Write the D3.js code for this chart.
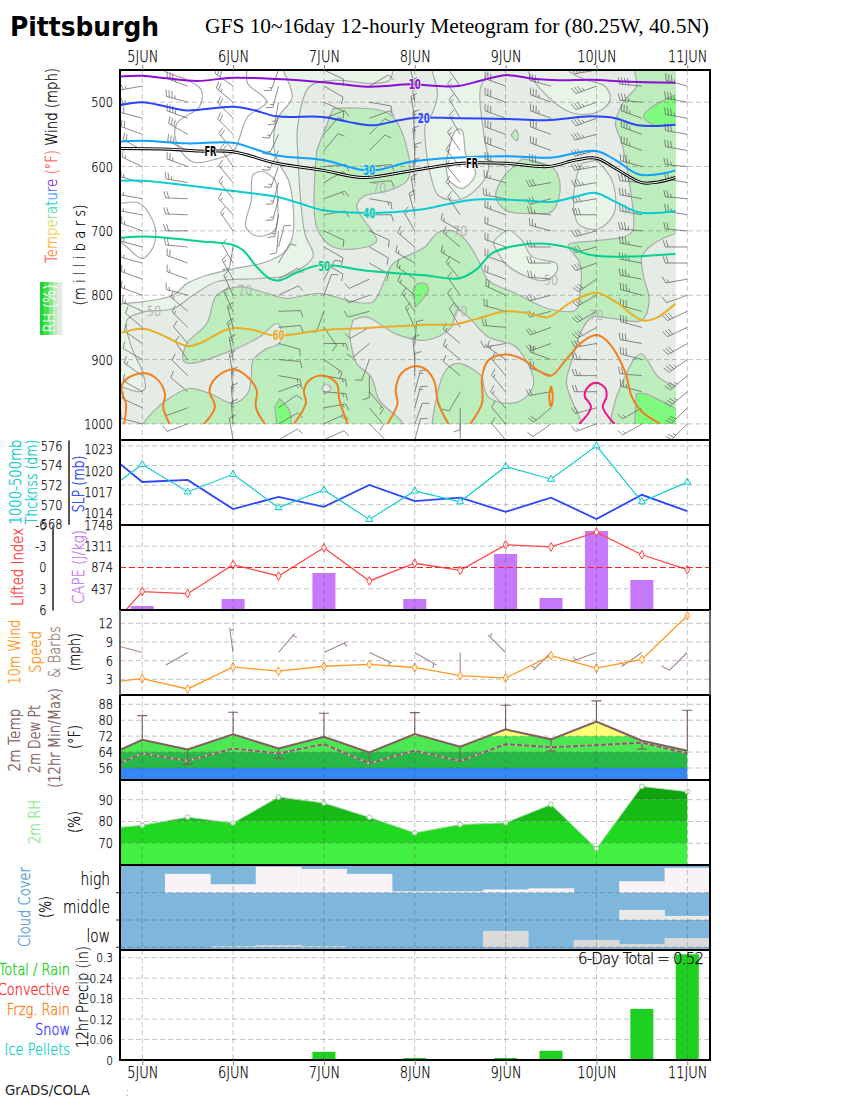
<!DOCTYPE html>
<html>
<head>
<meta charset="utf-8">
<script src="https://cdn.jsdelivr.net/npm/d3@7/dist/d3.min.js"></script>
<style>
  html, body { margin: 0; padding: 0; background: #fff; }
  svg { display: block; }
  text { font-family: "DejaVu Sans ExtraLight", "DejaVu Sans", sans-serif; font-weight: 200; }
</style>
</head>
<body>
<div id="chart"></div>
<script>
// --- time axis
var dayLabels = ["5JUN", "6JUN", "7JUN", "8JUN", "9JUN", "10JUN", "11JUN"];
var days = [0, 1, 2, 3, 4, 5, 6];
var halfDays = [0, 0.5, 1, 1.5, 2, 2.5, 3, 3.5, 4, 4.5, 5, 5.5, 6];
var lineDays = [-0.25, 0, 0.5, 1, 1.5, 2, 2.5, 3, 3.5, 4, 4.5, 5, 5.5, 6];

// --- upper panel: isotherms as [day, mb]
var iso10 = [[-.25,460],[0,459],[.27,463],[.6,467],[1,462],[1.48,464],[1.99,469],[2.47,476],[2.68,475],[2.94,472],[3.26,475],[3.48,475],[3.74,466],[4,458],[4.33,464],[4.58,466],[4.95,465],[5.31,468],[5.87,470]];
var iso20 = [[-.25,505],[0,500],[.27,507],[.49,513],[1,507],[1.22,512],[1.48,522],[1.99,523],[2.28,531],[2.54,536],[2.83,528],[3.05,524],[3.48,525],[4,526],[4.44,528],[4.95,522],[5.21,525],[5.46,536],[5.87,535]];
var iso30 = [[-.25,561],[.01,560],[.49,564],[1,563],[1.22,572],[1.48,583],[1.99,590],[2.41,605],[2.61,605],[2.9,594],[3.11,590],[3.48,586],[4,584],[4.51,586],[4.77,579],[5,576],[5.21,590],[5.46,612],[5.68,612],[5.87,606]];
var isoFR = [[-.25,572],[.3,573],[.63,576],[1,577],[1.48,595],[1.99,606],[2.43,617],[2.9,608],[3.11,603],[3.52,595],[4,595],[4.47,600],[4.77,590],[5,587],[5.21,603],[5.5,625],[5.68,624],[5.87,617]];
var iso40 = [[-.25,622],[.01,622],[.3,626],[1,638],[1.48,647],[1.73,657],[1.99,668],[2.39,672],[2.61,672],[3.11,666],[3.48,655],[3.74,651],[4.25,653],[4.51,655],[4.77,647],[4.99,641],[5.21,655],[5.46,671],[5.68,672],[5.87,669]];
var iso50 = [[-.25,711],[.08,709],[.63,716],[1,722],[1.11,730],[1.26,756],[1.4,774],[1.51,777],[1.7,765],[1.92,754],[2.1,754],[2.47,762],[3.11,769],[3.48,774],[3.67,761],[3.85,735],[4.11,723],[4.44,720],[4.69,726],[4.95,738],[5.31,740],[5.87,736]];
var iso60 = [[-.25,859],[.01,852],[.19,860],[.49,879],[.63,875],[.96,852],[1.22,854],[1.42,862],[1.59,862],[1.99,854],[2.47,851],[3.11,846],[3.45,845],[3.7,836],[4,825],[4.25,828],[4.47,834],[4.73,810],[5,796],[5.21,810],[5.5,839],[5.65,836],[5.87,813]];
var iso70a = [[-.20,1000],[-.18,968],[-.23,948],[-.19,932],[.01,921],[.16,930],[.25,953],[.23,974],[.30,1000]];
var iso70b = [[.68,1000],[.80,974],[.74,948],[.82,927],[1,915],[1.16,927],[1.26,948],[1.25,974],[1.35,1000]];
var iso70c = [[1.67,1000],[1.80,968],[1.78,948],[1.84,932],[1.99,925],[2.14,937],[2.17,963],[2.26,1000]];
var iso70d = [[2.70,1000],[2.81,968],[2.79,948],[2.85,922],[3,910],[3.11,914],[3.21,932],[3.26,968],[3.37,1000]];
var iso70e = [[3.61,1000],[3.74,968],[3.74,927],[3.81,901],[4,892],[4.18,899],[4.36,917],[4.5,925],[4.66,901],[4.84,873],[5,862],[5.13,873],[5.31,917],[5.39,958],[5.5,981],[5.70,1000]];
var iso70f = [[4.5,941],[4.52,958],[4.5,973],[4.48,958],[4.5,941]];
var iso80 = [[4.81,1000],[4.94,974],[4.87,956],[4.91,942],[5,936],[5.10,945],[5.11,958],[5.07,974],[5.2,1000]];

var isotherms = [
  { pts: iso10, color: "#8a0fd8" },
  { pts: iso20, color: "#2a44ff" },
  { pts: iso30, color: "#12a0ff" },
  { pts: iso40, color: "#0ccbd0" },
  { pts: iso50, color: "#05d08e" },
  { pts: iso60, color: "#e8ae2a" },
  { pts: iso70a, color: "#f08022" },
  { pts: iso70b, color: "#f08022" },
  { pts: iso70c, color: "#f08022" },
  { pts: iso70d, color: "#f08022" },
  { pts: iso70e, color: "#f08022" },
  { pts: iso70f, color: "#f08022" },
  { pts: iso80, color: "#f0108c" }
];
// label, day, mb, colour, colour behind it
var isoLabels = [
  ["10", 3, 471, "#8a0fd8", "#e5ece5"],
  ["20", 3.1, 524, "#2a44ff", "#e5ece5"],
  ["30", 2.5, 605, "#12a0ff", "#bdecbd"],
  ["40", 2.5, 672, "#0ccbd0", "#bdecbd"],
  ["50", 2, 754, "#05d08e", "#e5ece5"],
  ["60", 1.5, 862, "#e8ae2a", "#e5ece5"],
  ["FR", 0.75, 576, "#000", "#fff"],
  ["FR", 3.63, 595, "#000", "#fff"]
];

// --- upper panel: RH regions as [day, mb], points past the field edge get clipped
var rhWhiteA = [[1.53,440],[1.55,450],[1.65,492],[1.48,528],[1.46,580],[1.62,626],[1.66,704],[1.59,730],[1.37,748],[1,759],[.71,769],[.49,782],[.34,800],[.01,810],[-.25,814],[-.4,820],[-.4,440]];
var rhWhiteB = [[3.34,600],[3.45,544],[3.52,544],[3.56,580],[3.67,611],[3.52,634],[3.37,621]];
var rhGrey = [[-.4,940],[-.25,942],[-.03,950],[.03,945],[.01,922],[-.12,880],[-.17,839],[.01,826],[.34,821],[.56,800],[.82,779],[1.29,774],[1.59,769],[1.88,740],[1.79,704],[1.71,575],[1.71,538],[1.84,476],[2.10,466],[2.54,471],[2.72,466],[2.76,450],[2.76,430],[6,430],[6,1020],[-.4,1020]];
var rhPaleA = [[3.19,440],[3.19,450],[3.25,487],[3.19,518],[3.12,533],[3.12,569],[3.17,611],[3.26,645],[3.48,652],[3.70,632],[3.81,606],[3.76,549],[3.72,481],[3.81,450],[3.81,430]];
var rhPaleB = [[4.25,440],[4.25,453],[4.55,502],[4.77,518],[5.02,515],[5.15,497],[5.10,476],[4.84,463],[4.69,450],[4.69,430]];
var rhPaleC = [[5,590],[5.17,621],[5.21,663],[5.15,683],[4.99,698],[4.80,689],[4.75,663],[4.78,616],[4.84,595]];
var rhPaleD = [[3.87,716],[4.03,699],[4.18,715],[4.29,740],[4.56,751],[4.56,764],[4.44,777],[4.25,772],[4,751],[3.87,722]];
var rhGreenA = [[2.10,510],[2.72,518],[2.92,575],[2.92,621],[2.72,637],[2.43,647],[2.36,663],[2.58,715],[2.47,725],[2.10,725],[1.92,694],[1.92,575]];
var rhGreenB = [[-.02,1020],[.01,1000],[.27,963],[.52,945],[.78,955],[1,968],[1.16,953],[1.20,927],[1.22,901],[1.37,883],[1.51,875],[1.53,854],[1.48,844],[1.29,865],[1,885],[.52,906],[.45,901],[.49,875],[.71,844],[.82,800],[1.07,787],[1.37,797],[1.59,805],[1.95,797],[2.32,810],[2.54,810],[2.76,751],[2.98,735],[3.11,725],[3.26,702],[3.39,699],[3.48,704],[3.59,720],[3.72,751],[3.81,777],[4.11,797],[4.47,821],[4.77,823],[4.82,797],[4.82,751],[4.69,722],[4.95,716],[5.31,709],[5.40,699],[5.37,632],[5.28,564],[5.21,533],[5.31,497],[5.44,476],[5.42,450],[5.42,430],[6,430],[6,700],[5.87,704],[5.61,722],[5.5,740],[5.52,771],[5.58,808],[5.5,839],[5.17,836],[4.95,834],[4.84,854],[4.73,901],[4.67,937],[4.84,1000],[4.86,1020]];
var rhGreenC = [[5.14,1020],[5.15,1000],[5.22,958],[5.33,922],[5.42,898],[5.5,891],[5.68,927],[5.87,942],[6,950],[6,1020]];
var rhGreenD = [[4.11,542],[4.14,551],[4.12,560],[4.06,551]];
var rhGreenE = [[4.18,588],[4.53,603],[4.60,637],[4.51,670],[4.36,673],[4,668],[3.89,645],[4,611]];
var rhHoleA = [[2.28,860],[2.36,906],[2.52,927],[2.61,963],[2.87,1000],[2.87,1020],[3.19,1020],[3.19,1000],[3.34,917],[3.48,906],[3.74,927],[3.76,942],[3.81,958],[4,968],[4.18,963],[4.31,937],[4.11,880],[3.81,865],[3.59,834],[3.47,823],[3.39,852],[3.12,870],[2.79,860],[2.47,834],[2.32,839]];
var rhHoleB = [[1.98,945],[2.01,938],[2.08,945],[2.01,953]];
var rhBrightA = [[1.51,961],[1.62,979],[1.64,1000],[1.64,1020],[1.5,1020],[1.48,1000],[1.46,974]];
var rhBrightB = [[2.98,797],[3.01,784],[3.12,782],[3.15,792],[3.12,800],[3.01,818]];
var rhBrightC = [[5.86,489],[5.57,512],[5.52,523],[5.64,536],[5.87,536],[6,536],[6,485]];
var rhBrightD = [[5.44,953],[5.53,953],[5.87,976],[6,985],[6,1020],[5.41,1020],[5.42,1000]];
var rhLineA = [[.23,440],[.23,450],[.49,465],[.65,481],[.63,507],[.38,533],[.38,564],[.56,593],[.82,588],[1,577],[1.16,523],[1.37,499],[1.16,471],[1.15,450],[1.15,440]];
var rhLineB = [[1.33,607],[1.22,613],[1.20,652],[1.14,694],[1.26,708],[1.46,699],[1.49,652],[1.46,621],[1.33,607]];
var rhLineC = [[-.4,657],[-.25,657],[-.03,657],[.14,694],[.12,725],[0,743],[-.17,725],[-.25,717],[-.4,710]];

var rhRegions = [
  { pts: rhWhiteA, fill: "#ffffff" },
  { pts: rhGrey, fill: "#e5ece5" },
  { pts: rhPaleA, fill: "#e9f4e9" },
  { pts: rhWhiteB, fill: "#ffffff" },
  { pts: rhPaleB, fill: "#e9f4e9" },
  { pts: rhPaleC, fill: "#e9f4e9" },
  { pts: rhPaleD, fill: "#e9f4e9" },
  { pts: rhGreenA, fill: "#bdecbd" },
  { pts: rhGreenB, fill: "#bdecbd" },
  { pts: rhGreenC, fill: "#bdecbd" },
  { pts: rhGreenD, fill: "#bdecbd" },
  { pts: rhGreenE, fill: "#bdecbd" },
  { pts: rhHoleA, fill: "#e5ece5" },
  { pts: rhHoleB, fill: "#e5ece5" },
  { pts: rhBrightA, fill: "#80fb80" },
  { pts: rhBrightB, fill: "#80fb80" },
  { pts: rhBrightC, fill: "#80fb80" },
  { pts: rhBrightD, fill: "#80fb80" }
];
var rhLines = [rhLineA, rhLineB, rhLineC];
var rhLabels = [["50", .13, 824], ["70", 1.13, 792], ["70", 2.61, 633], ["70", 3.5, 700], ["70", 3.5, 825], ["50", 4.5, 776], ["70", 5, 831]];

// --- upper panel winds, one row per 12 hours, one value per level
var windLevels = [450,475,500,525,550,575,600,625,650,675,700,725,750,775,800,825,850,875,900,925,950,975,1000,1025];
var windDir = [
  [280,260,265,285,290,300,295,285,280,280,290,285,285,290,290,295,310,305,300,305,300,295,285,270],
  [290,290,285,290,300,295,290,280,272,272,270,275,290,290,285,310,315,320,325,315,310,250,250,250],
  [300,305,310,315,315,320,325,320,320,318,325,190,330,330,335,335,345,345,350,350,355,355,355,350],
  [200,195,190,205,205,205,200,195,195,190,185,15,30,60,65,88,85,105,95,100,70,55,60,60],
  [115,120,115,70,40,40,85,60,70,80,115,120,120,30,20,200,145,90,125,100,95,80,65,65],
  [45,60,100,70,45,45,85,85,100,90,115,120,120,245,250,255,240,230,200,180,140,140,135,130],
  [345,345,350,350,355,355,0,355,350,345,330,310,300,305,310,325,335,5,355,0,15,15,20,15],
  [330,325,325,330,330,325,320,320,320,325,300,310,300,320,325,325,330,310,310,310,210,180,180,180],
  [290,290,290,290,290,290,290,285,280,290,290,290,290,290,295,285,275,260,305,320,320,317,320,320],
  [285,285,290,290,290,290,285,260,255,275,285,270,270,275,255,255,250,250,290,290,260,230,235,235],
  [260,250,250,250,255,255,260,260,260,270,255,255,250,235,240,240,240,260,270,270,270,255,250,250],
  [270,275,275,290,290,290,285,275,280,280,275,280,280,280,285,285,285,280,285,275,285,240,240,240],
  [280,285,280,280,280,280,275,280,275,280,275,270,270,260,250,245,245,240,235,230,230,225,225,225]
];
var windSpeed = [
  [25,25,25,20,20,20,15,15,15,15,15,15,15,15,15,15,10,10,10,15,15,10,10,10],
  [35,35,35,35,30,30,25,25,20,20,20,20,20,15,15,15,15,10,10,10,10,10,10,10],
  [30,30,25,20,20,20,20,15,15,15,15,10,10,15,15,15,15,15,15,15,15,15,10,10],
  [15,15,15,15,15,15,15,15,15,15,10,10,10,10,10,10,10,10,10,15,15,10,10,10],
  [10,10,10,10,10,10,10,10,15,10,10,10,10,10,10,10,10,15,15,15,15,15,15,10],
  [10,10,10,10,10,10,10,10,15,10,10,10,10,10,10,10,10,10,10,10,15,10,10,10],
  [15,15,15,15,15,15,15,15,15,15,15,15,15,15,15,15,15,10,10,10,15,15,10,10],
  [15,15,15,15,15,15,15,15,15,15,15,15,15,15,15,10,10,15,15,10,10,10,10,5],
  [30,30,30,30,30,30,25,25,25,25,20,20,20,20,20,20,20,15,15,15,15,15,10,10],
  [35,35,35,35,30,30,30,30,30,25,25,25,25,25,25,25,25,25,20,20,20,20,10,10],
  [35,35,35,35,35,35,35,35,30,30,30,30,30,30,30,30,30,30,25,25,20,20,15,15],
  [40,40,35,35,35,35,35,35,35,35,35,35,35,35,35,30,30,30,30,25,25,15,15,15],
  [35,35,35,35,30,30,25,25,25,25,20,20,20,15,10,30,30,30,35,35,35,30,25,25]
];

// --- lower panels
var slp = [1021.0,1018.4,1018.7,1014.6,1016.3,1014.9,1018,1015.7,1016.2,1014.2,1016.2,1013.2,1016.6,1014.3];
var thickness = [572.4,574.1,571.3,573.1,569.7,571.5,568.5,571.4,570.3,573.9,572.6,576.0,570.3,572.3];
var liftedIndex = [7,3.4,3.7,-.4,1.2,-2.8,1.9,-.6,.4,-3.2,-2.9,-5,-1.8,.3];
var capeDays = [0,1,2,3,4,4.5,5,5.5];
var cape = [82,226,761,226,1152,247,1625,617];
var wind10m = [2.7,3.1,1.45,5,4.3,5.1,5.4,4.9,3.6,3.2,6.8,4.8,6.2,13.2];
var wind10mDir = [285,240,352,40,65,115,120,180,315,225,250,235,225];
var wind10mBarb = [0,0,5,5,5,5,5,0,5,5,5,5,10];
var temp2m = [65,70.2,65.3,72.9,65.8,71.7,63.8,73,66.7,75.4,70.4,79.3,69.7,64.7];
var dew2m = [58.3,63.3,59.6,65.8,63.3,68,58.3,64.7,59.5,68,66.4,67.5,68.7,63.3];
var maxDays = [0,1,2,3,4,5,6];
var tempMax = [82.3,84,83.5,83.8,87.5,89.7,85];
var minDays = [.5,1.5,2.5,3.5,4.5,5.5];
var tempMin = [57.8,60.8,58.6,59.5,64.5,65.5];
var rh2m = [77.3,78.3,82,79.3,91.2,88.5,81.9,74.8,78.6,79.4,87.8,67.6,96.1,93.7];
var cloudHigh = [0,69,31,95,87,69,5,5,12,16,0,42,91];
var cloudMid = [0,0,0,0,0,0,0,0,0,0,0,37,15];
var cloudLow = [0,0,4,8,4,0,0,0,60,0,27,12,34];
var precipDays = [2,3,4,4.5,5.5,6];
var precip = [.024,.006,.006,.027,.15,.31];

// --- set up
var width = 850, height = 1100;
var svg = d3.select("#chart").append("svg").attr("width", width).attr("height", height);
var defs = svg.append("defs");
var x = d3.scaleLinear().domain([-0.245, 6.25]).range([120, 710]);
var left = 120, right = 710;
var grid = "rgba(70,70,70,0.32)";
var intFmt = d3.format("d");
var plainFmt = function(d) { return String(d); };

function addClip(id, x0, y0, w, h) {
  defs.append("clipPath").attr("id", id).append("rect")
    .attr("x", x0).attr("y", y0).attr("width", w).attr("height", h);
}

function tick(sel, size) {
  sel.call(function(g) { g.select(".domain").remove(); });
  sel.selectAll("text").attr("font-size", size || 14).attr("fill", "#000");
}

function hGrid(vals, scale, color) {
  svg.append("g").selectAll("line").data(vals).enter().append("line")
    .attr("x1", left).attr("x2", right)
    .attr("y1", function(d) { return scale(d); })
    .attr("y2", function(d) { return scale(d); })
    .attr("stroke", color || grid).attr("stroke-width", 1).attr("stroke-dasharray", "5,3");
}

function vText(txt, px, py, color, len, size) {
  var t = svg.append("text")
    .attr("transform", "translate(" + px + "," + py + ") rotate(-90)")
    .attr("text-anchor", "middle")
    .attr("font-size", size || 16).attr("fill", color).text(txt);
  if (len) t.attr("textLength", len).attr("lengthAdjust", "spacingAndGlyphs");
  return t;
}

// --- upper panel
var yP = d3.scaleLinear().domain([450, 1025]).range([70, 440]);
var fieldRight = x(5.873);
addClip("field", left, yP(450), fieldRight - left, yP(1000) - yP(450));
addClip("upper", left, 70, right - left, 370);

var curve = d3.line().x(function(d) { return x(d[0]); }).y(function(d) { return yP(d[1]); })
  .curve(d3.curveCatmullRom.alpha(0.5));

var field = svg.append("g").attr("clip-path", "url(#field)");
field.append("rect").attr("x", left).attr("y", yP(450)).attr("width", fieldRight - left).attr("height", yP(1000) - yP(450)).attr("fill", "#e9f4e9");
field.selectAll("path.rh").data(rhRegions).enter().append("path").attr("class", "rh")
  .attr("d", function(d) { return curve(d.pts) + "Z"; })
  .attr("fill", function(d) { return d.fill; })
  .attr("stroke", "#aaaaaa").attr("stroke-width", 1.2);
field.selectAll("path.rhl").data(rhLines).enter().append("path").attr("class", "rhl")
  .attr("d", curve).attr("fill", "none").attr("stroke", "#aaaaaa").attr("stroke-width", 1.2);
svg.append("g").selectAll("text").data(rhLabels).enter().append("text")
  .attr("x", function(d) { return x(d[1]); }).attr("y", function(d) { return yP(d[2]) + 5; })
  .attr("text-anchor", "middle").attr("font-size", 14).attr("fill", "#b4b4b4")
  .text(function(d) { return d[0]; });

hGrid([500, 600, 700, 800, 900, 1000], yP);

// barbs
function barbPath(px, py, dir, speed, len, full) {
  var a = dir * Math.PI / 180;
  var ux = Math.sin(a), uy = -Math.cos(a);
  var b = (dir + 72) * Math.PI / 180;
  var fx = Math.sin(b), fy = -Math.cos(b);
  var ex = px + ux * len, ey = py + uy * len;
  var p = "M" + px + "," + py + "L" + ex + "," + ey;
  var pos = 0, left5 = speed;
  if (left5 === 5) pos = 3;
  while (left5 > 0) {
    var l = left5 >= 10 ? full : full * 0.5;
    var sx = ex - ux * pos, sy = ey - uy * pos;
    p += "M" + sx + "," + sy + "L" + (sx + fx * l) + "," + (sy + fy * l);
    pos += 3;
    left5 -= 10;
  }
  return p;
}
var barbData = [];
halfDays.forEach(function(t, i) {
  windLevels.forEach(function(lev, j) {
    barbData.push({ t: t, lev: lev, dir: windDir[i][j], speed: windSpeed[i][j] });
  });
});
svg.append("g").attr("clip-path", "url(#upper)").selectAll("path").data(barbData).enter().append("path")
  .attr("d", function(d) { return barbPath(x(d.t), yP(d.lev), d.dir, d.speed, 22, 7); })
  .attr("fill", "none").attr("stroke", "#5a5a5a").attr("stroke-width", 0.7);

// isotherms
var isoG = svg.append("g").attr("clip-path", "url(#field)");
isoG.append("path").attr("d", curve(isoFR)).attr("fill", "none").attr("stroke", "#000").attr("stroke-width", 3);
isoG.append("path").attr("d", curve(isoFR)).attr("fill", "none").attr("stroke", "#fff").attr("stroke-width", 1);
isoG.selectAll("path.iso").data(isotherms).enter().append("path").attr("class", "iso")
  .attr("d", function(d) { return curve(d.pts); })
  .attr("fill", "none").attr("stroke", function(d) { return d.color; }).attr("stroke-width", 2);
svg.append("g").selectAll("text").data(isoLabels).enter().append("text")
  .attr("x", function(d) { return x(d[1]); }).attr("y", function(d) { return yP(d[2]) + 5; })
  .attr("text-anchor", "middle").attr("font-size", 14)
  .attr("textLength", 12).attr("lengthAdjust", "spacingAndGlyphs")
  .style("font-family", "'DejaVu Sans'").style("font-weight", "bold")
  .attr("fill", function(d) { return d[3]; })
  .attr("stroke", function(d) { return d[4]; }).attr("stroke-width", 2).attr("paint-order", "stroke")
  .text(function(d) { return d[0]; });

var axP = svg.append("g").attr("transform", "translate(" + left + ",0)")
  .call(d3.axisLeft(yP).tickValues([500, 600, 700, 800, 900, 1000]).tickFormat(intFmt).tickSize(0).tickPadding(7));
tick(axP);

// --- SLP / thickness
var ySlp = d3.scaleLinear().domain([1014, 1023]).range([513.3, 449.3]);
var yThk = d3.scaleLinear().domain([568, 576.6]).range([524.3, 440]);
addClip("p2", left, 440, right - left, 85);
hGrid([570, 572, 574, 576], yThk);
var lineOf = function(scale) {
  return d3.line().x(function(d, i) { return x(lineDays[i]); }).y(function(d) { return scale(d); });
};
var g2 = svg.append("g").attr("clip-path", "url(#p2)");
g2.append("path").attr("d", lineOf(ySlp)(slp)).attr("fill", "none").attr("stroke", "#2a44ff").attr("stroke-width", 1.8);
g2.append("path").attr("d", lineOf(yThk)(thickness)).attr("fill", "none").attr("stroke", "#10cccc").attr("stroke-width", 1.2);
g2.selectAll("path.m").data(thickness.slice(1)).enter().append("path").attr("class", "m")
  .attr("d", d3.symbol().type(d3.symbolTriangle).size(22))
  .attr("transform", function(d, i) { return "translate(" + x(halfDays[i]) + "," + yThk(d) + ")"; })
  .attr("fill", "#e8fbfb").attr("stroke", "#10cccc").attr("stroke-width", 1);
tick(svg.append("g").attr("transform", "translate(" + left + ",0)")
  .call(d3.axisLeft(ySlp).tickValues([1014, 1017, 1020, 1023]).tickFormat(intFmt).tickSize(0).tickPadding(7)));
var axThk = svg.append("g").attr("transform", "translate(68.5,0)")
  .call(d3.axisLeft(yThk).tickValues([568, 570, 572, 574, 576]).tickFormat(intFmt).tickSize(0).tickPadding(6).tickSizeOuter(0));
axThk.selectAll("text").attr("font-size", 14).attr("fill", "#000");
axThk.select(".domain").attr("stroke", "#555").attr("stroke-width", 2);

// --- CAPE / LI
var yCape = d3.scaleLinear().domain([0, 1748]).range([610, 525]);
var yLi = d3.scaleLinear().domain([-6, 6]).range([525, 610]);
addClip("p3", left, 525, right - left, 85);
hGrid([437, 1311], yCape);
svg.append("g").selectAll("rect").data(cape).enter().append("rect")
  .attr("x", function(d, i) { return x(capeDays[i]) - 11.5; }).attr("width", 23)
  .attr("y", function(d) { return yCape(d); })
  .attr("height", function(d) { return yCape(0) - yCape(d); })
  .attr("fill", "#c678fb");
var g3 = svg.append("g").attr("clip-path", "url(#p3)");
g3.append("path").attr("d", lineOf(yLi)(liftedIndex)).attr("fill", "none").attr("stroke", "#ff4848").attr("stroke-width", 1.3);
g3.selectAll("path.m").data(liftedIndex.slice(1)).enter().append("path").attr("class", "m")
  .attr("d", d3.symbol().type(d3.symbolDiamond).size(22))
  .attr("transform", function(d, i) { return "translate(" + x(halfDays[i]) + "," + yLi(d) + ")"; })
  .attr("fill", "#fff0f0").attr("stroke", "#ff4848").attr("stroke-width", 1);
tick(svg.append("g").attr("transform", "translate(" + left + ",0)")
  .call(d3.axisLeft(yCape).tickValues([437, 874, 1311, 1748]).tickFormat(intFmt).tickSize(0).tickPadding(7)));
var axLi = svg.append("g").attr("transform", "translate(52.5,0)")
  .call(d3.axisLeft(yLi).tickValues([-6, -3, 0, 3, 6]).tickFormat(plainFmt).tickSize(0).tickPadding(6).tickSizeOuter(0));
axLi.selectAll("text").attr("font-size", 14).attr("fill", "#000");
axLi.select(".domain").attr("stroke", "#555").attr("stroke-width", 2);

// --- 10m wind
var yWind = d3.scaleLinear().domain([3, 12]).range([679.3, 623.3]);
addClip("p4", left, 610, right - left, 85);
hGrid([3, 6, 9, 12], yWind);
var g4 = svg.append("g").attr("clip-path", "url(#p4)");
var barbY = 652.5;
g4.selectAll("path.b").data(wind10mDir).enter().append("path").attr("class", "b")
  .attr("d", function(d, i) { return barbPath(x(halfDays[i]), barbY, d, wind10mBarb[i], 25, 9); })
  .attr("fill", "none").attr("stroke", "#a08a80").attr("stroke-width", 1.1);
g4.append("path").attr("d", lineOf(yWind)(wind10m)).attr("fill", "none").attr("stroke", "#ff9820").attr("stroke-width", 1.3);
g4.selectAll("path.m").data(wind10m.slice(1)).enter().append("path").attr("class", "m")
  .attr("d", d3.symbol().type(d3.symbolDiamond).size(22))
  .attr("transform", function(d, i) { return "translate(" + x(halfDays[i]) + "," + yWind(d) + ")"; })
  .attr("fill", "#fff5e8").attr("stroke", "#ff9820").attr("stroke-width", 1);
tick(svg.append("g").attr("transform", "translate(" + left + ",0)")
  .call(d3.axisLeft(yWind).tickValues([3, 6, 9, 12]).tickFormat(plainFmt).tickSize(0).tickPadding(7)));

// --- band-filled areas, temperature and RH share this
function bandArea(id, scale, series, bands, top, bottom) {
  var area = d3.area().x(function(d, i) { return x(lineDays[i]); })
    .y0(bottom).y1(function(d) { return scale(d); });
  defs.append("clipPath").attr("id", id).append("path").attr("d", area(series));
  svg.append("g").attr("clip-path", "url(#" + id + ")").selectAll("rect").data(bands).enter().append("rect")
    .attr("x", left).attr("width", right - left)
    .attr("y", function(d) { return d[1] === null ? top : scale(d[1]); })
    .attr("height", function(d) {
      var y0 = d[0] === null ? bottom : scale(d[0]);
      var y1 = d[1] === null ? top : scale(d[1]);
      return y0 - y1;
    })
    .attr("fill", function(d) { return d[2]; });
}

// --- 2m temp
var yT = d3.scaleLinear().domain([56, 88]).range([768, 704.3]);
addClip("p5", left, 695, right - left, 85);
var tempBands = [[null, 56, "#3388f4"], [56, 64, "#28b848"], [64, 72, "#4ce853"], [72, null, "#fbff78"]];
bandArea("tempFill", yT, temp2m, tempBands, 695, 780);
hGrid([56, 64, 72, 80, 88], yT);
var g5 = svg.append("g").attr("clip-path", "url(#p5)");
var brown = "#80605a";
function whisker(dayList, vals, base) {
  dayList.forEach(function(t, i) {
    var from = yT(base[lineDays.indexOf(t)]), to = yT(vals[i]);
    g5.append("path")
      .attr("d", "M" + x(t) + "," + from + "L" + x(t) + "," + to + "M" + (x(t) - 5) + "," + to + "L" + (x(t) + 5) + "," + to)
      .attr("fill", "none").attr("stroke", brown).attr("stroke-width", 1.1);
  });
}
whisker(maxDays, tempMax, temp2m);
whisker(minDays, tempMin, temp2m);
g5.append("path").attr("d", lineOf(yT)(temp2m)).attr("fill", "none").attr("stroke", brown).attr("stroke-width", 2);
g5.append("path").attr("d", lineOf(yT)(dew2m)).attr("fill", "none").attr("stroke", "#c4c0b8").attr("stroke-width", 1.8);
g5.append("path").attr("d", lineOf(yT)(dew2m)).attr("fill", "none").attr("stroke", brown).attr("stroke-width", 1.8).attr("stroke-dasharray", "5,2");
tick(svg.append("g").attr("transform", "translate(" + left + ",0)")
  .call(d3.axisLeft(yT).tickValues([56, 64, 72, 80, 88]).tickFormat(plainFmt).tickSize(0).tickPadding(7)));

// --- 2m RH
var yRh = d3.scaleLinear().domain([70, 90]).range([843.3, 799.7]);
var rhBands = [[null, 70, "#42f042"], [70, 80, "#20d820"], [80, 90, "#16bb16"], [90, null, "#0fa30f"]];
bandArea("rhFill", yRh, rh2m, rhBands, 780, 865);
hGrid([70, 80, 90], yRh);
svg.append("path").attr("d", lineOf(yRh)(rh2m)).attr("fill", "none").attr("stroke", "#a8d8a8").attr("stroke-width", 1);
svg.append("g").selectAll("circle").data(rh2m.slice(1)).enter().append("circle")
  .attr("cx", function(d, i) { return x(halfDays[i]); })
  .attr("cy", function(d) { return yRh(d); })
  .attr("r", 2.4).attr("fill", "#fff").attr("stroke", "#98cc98").attr("stroke-width", 1);
tick(svg.append("g").attr("transform", "translate(" + left + ",0)")
  .call(d3.axisLeft(yRh).tickValues([70, 80, 90]).tickFormat(plainFmt).tickSize(0).tickPadding(7)));

// --- cloud cover
var yCloudLow = d3.scaleLinear().domain([0, 100]).range([947.3, 920]);
var yCloudMid = d3.scaleLinear().domain([0, 100]).range([920, 892.7]);
var yCloudHigh = d3.scaleLinear().domain([0, 100]).range([892.7, 865.4]);
svg.append("rect").attr("x", left).attr("y", 865).attr("width", right - left).attr("height", 85).attr("fill", "#7fb6db");
function cloudBlocks(vals, scale, fill) {
  svg.append("g").selectAll("rect").data(vals).enter().append("rect")
    .attr("x", function(d, i) { return x(halfDays[i] - 0.25); })
    .attr("width", function(d, i) { return x(halfDays[i] + 0.25) - x(halfDays[i] - 0.25) + 0.3; })
    .attr("y", function(d) { return scale(d); })
    .attr("height", function(d) { return scale(0) - scale(d); })
    .attr("fill", fill);
}
cloudBlocks(cloudHigh, yCloudHigh, "#f9f3f7");
cloudBlocks(cloudMid, yCloudMid, "#e9e9e9");
cloudBlocks(cloudLow, yCloudLow, "#dadada");
var cloudLines = [892.7, 920, 947.3];
svg.append("g").selectAll("line").data(cloudLines).enter().append("line")
  .attr("x1", left).attr("x2", right)
  .attr("y1", function(d) { return d; }).attr("y2", function(d) { return d; })
  .attr("stroke", grid).attr("stroke-width", 1).attr("stroke-dasharray", "5,3");
svg.append("g").selectAll("line").data(cloudLines).enter().append("line")
  .attr("x1", left - 4).attr("x2", left)
  .attr("y1", function(d) { return d; }).attr("y2", function(d) { return d; })
  .attr("stroke", "#333").attr("stroke-width", 1);
var cloudNames = ["high", "middle", "low"];
svg.append("g").selectAll("text").data(cloudNames).enter().append("text")
  .attr("x", 110).attr("y", function(d, i) { return [885, 913, 942][i]; })
  .attr("text-anchor", "end").attr("font-size", 17).attr("fill", "#000")
  .text(function(d) { return d; });

// --- precip
var yPr = d3.scaleLinear().domain([0, 0.3]).range([1060, 957.7]);
hGrid([.06, .12, .18, .24, .3], yPr);
svg.append("g").selectAll("rect").data(precip).enter().append("rect")
  .attr("x", function(d, i) { return x(precipDays[i]) - 11.5; }).attr("width", 23)
  .attr("y", function(d) { return yPr(d); })
  .attr("height", function(d) { return yPr(0) - yPr(d); })
  .attr("fill", "#20d020");
tick(svg.append("g").attr("transform", "translate(" + left + ",0)")
  .call(d3.axisLeft(yPr).tickValues([0, .06, .12, .18, .24, .3]).tickFormat(plainFmt).tickSize(0).tickPadding(7)), 13);
svg.append("text").attr("x", 704).attr("y", 964).attr("text-anchor", "end")
  .attr("font-size", 15).attr("fill", "#000").attr("textLength", 126).attr("lengthAdjust", "spacing")
  .text("6-Day Total = 0.52");

// --- verticals run through everything
svg.append("g").selectAll("line").data(days).enter().append("line")
  .attr("x1", function(d) { return x(d); }).attr("x2", function(d) { return x(d); })
  .attr("y1", 70).attr("y2", 1060)
  .attr("stroke", grid).attr("stroke-width", 1).attr("stroke-dasharray", "5,3");

// LI zero line, goes over the verticals
svg.append("line").attr("x1", left).attr("x2", right).attr("y1", yLi(0)).attr("y2", yLi(0))
  .attr("stroke", "#ff2020").attr("stroke-width", 1.2).attr("stroke-dasharray", "6,3");

// --- frames
var panelEdges = [70, 440, 525, 610, 695, 780, 865, 950, 1060];
svg.append("g").selectAll("line").data(panelEdges).enter().append("line")
  .attr("x1", left - 1).attr("x2", right + 1)
  .attr("y1", function(d) { return d; }).attr("y2", function(d) { return d; })
  .attr("stroke", "#000").attr("stroke-width", 2);
svg.append("line").attr("x1", left).attr("x2", left).attr("y1", 70).attr("y2", 1060).attr("stroke", "#000").attr("stroke-width", 2);
svg.append("line").attr("x1", right).attr("x2", right).attr("y1", 70).attr("y2", 1060).attr("stroke", "#000").attr("stroke-width", 2);
svg.append("line").attr("x1", left).attr("x2", left).attr("y1", 610).attr("y2", 695).attr("stroke", "#666").attr("stroke-width", 2);
svg.append("line").attr("x1", right).attr("x2", right).attr("y1", 610).attr("y2", 695).attr("stroke", "#666").attr("stroke-width", 2);

// --- day axes, top and bottom
var dayFmt = function(d) { return dayLabels[d]; };
var axTop = svg.append("g").attr("transform", "translate(0,70)")
  .call(d3.axisTop(x).tickValues(days).tickFormat(dayFmt).tickSize(5).tickPadding(3));
axTop.select(".domain").remove();
axTop.selectAll("text").attr("font-size", 16).attr("fill", "#000");
axTop.selectAll("line").attr("stroke", "#888");
var axBot = svg.append("g").attr("transform", "translate(0,1060)")
  .call(d3.axisBottom(x).tickValues(days).tickFormat(dayFmt).tickSize(5).tickPadding(2));
axBot.select(".domain").remove();
axBot.selectAll("text").attr("font-size", 16).attr("fill", "#000");
axBot.selectAll("line").attr("stroke", "#888");

// --- titles
svg.append("text").attr("x", 10).attr("y", 36).attr("font-size", 27).style("font-weight", "bold")
  .style("font-family", "'DejaVu Sans'")
  .attr("textLength", 149).attr("lengthAdjust", "spacingAndGlyphs")
  .attr("fill", "#000").text("Pittsburgh");
svg.append("text").attr("x", 205).attr("y", 33).attr("font-size", 22).attr("fill", "#000")
  .style("font-family", "'Liberation Serif'").style("font-weight", "normal")
  .attr("textLength", 504).attr("lengthAdjust", "spacingAndGlyphs")
  .text("GFS 10~16day 12-hourly Meteogram for (80.25W, 40.5N)");
svg.append("text").attr("x", 5).attr("y", 1095).attr("font-size", 14).attr("fill", "#222")
  .style("font-family", "'DejaVu Sans'").style("font-weight", "normal")
  .attr("textLength", 85).attr("lengthAdjust", "spacingAndGlyphs").text("GrADS/COLA");
svg.append("text").attr("x", 125).attr("y", 1096).attr("font-size", 12).attr("fill", "#222")
  .style("font-family", "'DejaVu Sans'").text(":");

// --- multicolour side label
var tempWord = "Temperature".split("");
var tempColors = ["#ff5050", "#ff8438", "#ffae30", "#f2cf40", "#c6e050", "#80e080", "#38dfa6", "#20d0d0", "#30a4ff", "#4868ff", "#8a2ae0"];
var tl = svg.append("text").attr("transform", "translate(57,263) rotate(-90)").attr("font-size", 16)
  .attr("textLength", 195).attr("lengthAdjust", "spacingAndGlyphs");
tl.selectAll("tspan.c").data(tempWord).enter().append("tspan").attr("class", "c")
  .attr("fill", function(d, i) { return tempColors[i]; }).text(function(d) { return d; });
tl.append("tspan").attr("fill", "#ff5050").text(" (°F) ");
tl.append("tspan").attr("fill", "#000").text("Wind (mph)");

// RH colour key
var rhKey = ["#22d433", "#3fe04a", "#84ea88", "#c4e9c4", "#e2e9e2"];
svg.append("g").selectAll("rect").data(rhKey).enter().append("rect")
  .attr("x", function(d, i) { return 40 + i * 4.4; }).attr("y", 282).attr("width", 4.6).attr("height", 53)
  .attr("fill", function(d) { return d; });
vText("RH (%)", 55, 308.5, "#fff", 48, 15);
vText("(m i l l i b a r s)", 85, 255, "#000", 101, 16);

// panel captions
vText("1000-500mb", 21, 482, "#10cccc", 85);
vText("Thcknss (dm)", 37, 482, "#10cccc", 85);
vText("SLP (mb)", 84, 484, "#2a44ff", 57);
vText("Lifted Index", 23, 567, "#ff4040", 78);
vText("CAPE (J/kg)", 84, 567, "#c678fb", 74);
vText("10m Wind", 20, 652, "#ff9820", 65);
vText("Speed", 41, 652, "#ff9820", 42);
vText("& Barbs", 60, 652, "#a08a80", 52);
vText("(mph)", 80, 652, "#000", 38);
vText("2m Temp", 20, 740, "#80605a", 63);
vText("2m Dew Pt", 40, 739, "#80605a", 68);
vText("(12hr Min/Max)", 60, 738, "#80605a", 100);
vText("(°F)", 80, 737, "#000", 24);
vText("2m RH", 40, 822, "#90e890", 44);
vText("(%)", 80, 822, "#000", 22);
vText("Cloud Cover", 30, 907, "#5aa0d8", 80);
vText("(%)", 51, 907, "#000", 22);
vText("12hr Precip (in)", 88, 997, "#000", 102);

var precipNames = ["Total / Rain", "Convective", "Frzg. Rain", "Snow", "Ice Pellets"];
var precipColors = ["#20d020", "#ff3030", "#ff8020", "#4040ff", "#20d0d0"];
svg.append("g").selectAll("text").data(precipNames).enter().append("text")
  .attr("x", 70).attr("y", function(d, i) { return 975 + i * 20; })
  .attr("text-anchor", "end").attr("font-size", 16)
  .attr("fill", function(d, i) { return precipColors[i]; })
  .text(function(d) { return d; });

// thin face is too light and too wide for GrADS' lettering: squeeze it and thicken it a bit
svg.selectAll("text").each(function() {
  if (this.style.fontFamily) return;
  if (!this.getAttribute("textLength")) {
    this.setAttribute("textLength", this.getComputedTextLength() * 0.81);
    this.setAttribute("lengthAdjust", "spacingAndGlyphs");
  }
  var fill = this.getAttribute("fill");
  if (fill) {
    this.setAttribute("stroke", fill);
    this.setAttribute("stroke-width", fill === "#000" ? 0.25 : 0.4);
  } else {
    d3.select(this).selectAll("tspan").each(function() {
      this.setAttribute("stroke", this.getAttribute("fill"));
      this.setAttribute("stroke-width", 0.3);
    });
  }
});
</script>
</body>
</html>
